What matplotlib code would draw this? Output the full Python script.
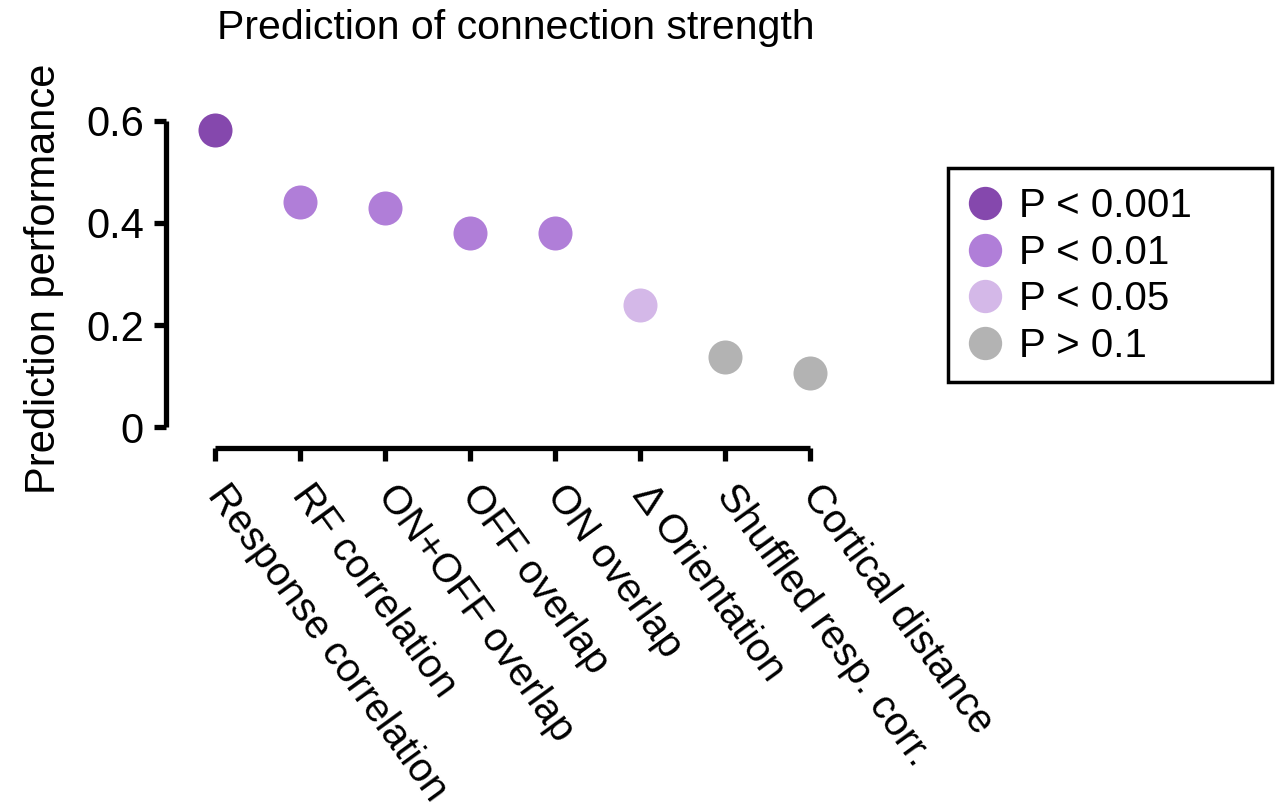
import matplotlib
matplotlib.use("Agg")
import matplotlib.pyplot as plt
from matplotlib.lines import Line2D
from matplotlib.patches import Rectangle

plt.rcParams['font.family'] = ['Liberation Sans', 'DejaVu Sans']

# predictors, sorted by performance
features = ["Response correlation", "RF correlation", "ON+OFF overlap",
            "OFF overlap", "ON overlap", "\u0394 Orientation",
            "Shuffled resp. corr.", "Cortical distance"]
performance = [0.582, 0.441, 0.429, 0.380, 0.380, 0.239, 0.137, 0.106]
signif = [0, 1, 1, 1, 1, 2, 3, 3]

sig_labels = ["P < 0.001", "P < 0.01", "P < 0.05", "P > 0.1"]
sig_colors = ["#8548AD", "#B07ED8", "#D4B8E8", "#B3B3B3"]

fig = plt.figure(figsize=(12.82, 8.06), dpi=100)
ax = fig.add_axes([0.1295, 0.444, 0.522, 0.419])

x = list(range(len(features)))
for i in x:
    ax.plot(x[i], performance[i], 'o', ms=24.5, color=sig_colors[signif[i]],
            mec='none', clip_on=False)

ax.set_xlim(-0.576, 7.3)
ax.set_ylim(-0.041, 0.62)

# prism style detached axes
for s in ['top', 'right']:
    ax.spines[s].set_visible(False)
ax.spines['left'].set_bounds(0, 0.6)
ax.spines['bottom'].set_bounds(0, 7)
for s in ['left', 'bottom']:
    ax.spines[s].set_linewidth(3.8)
    ax.spines[s].set_capstyle('butt')

ax.set_yticks([0, 0.2, 0.4, 0.6])
ax.set_yticklabels(["0", "0.2", "0.4", "0.6"])
ax.set_xticks(x)
ax.set_xticklabels(features, rotation=-54, ha='left', va='center',
                   rotation_mode='anchor')
ax.tick_params(axis='both', width=3.8, length=9, labelsize=30, pad=7)
ax.tick_params(axis='x', labelsize=29, pad=20)

ax.set_ylabel("Prediction performance", fontsize=30, labelpad=16)
fig.text(516 / 1282, 1 - 28 / 806, "Prediction of connection strength",
         fontsize=29.5, ha='center', va='center')

# legend without its own frame; the box is drawn separately (wider than the text)
handles = [Line2D([], [], ls='none', marker='o', ms=24, color=c, mec='none')
           for c in sig_colors]
leg = fig.legend(handles, sig_labels, loc='center left',
                 bbox_to_anchor=(965 / 1282, 1 - 276 / 806),
                 bbox_transform=fig.transFigure, borderaxespad=0,
                 fontsize=29, frameon=False,
                 handletextpad=0.33, handlelength=1.0, labelspacing=0.215,
                 borderpad=0)
fig.add_artist(Rectangle((948 / 1282, 1 - 382 / 806), 324 / 1282, 214 / 806,
                         transform=fig.transFigure, fill=False, lw=2.5,
                         ec='black'))

fig.savefig("out.png", dpi=100)
